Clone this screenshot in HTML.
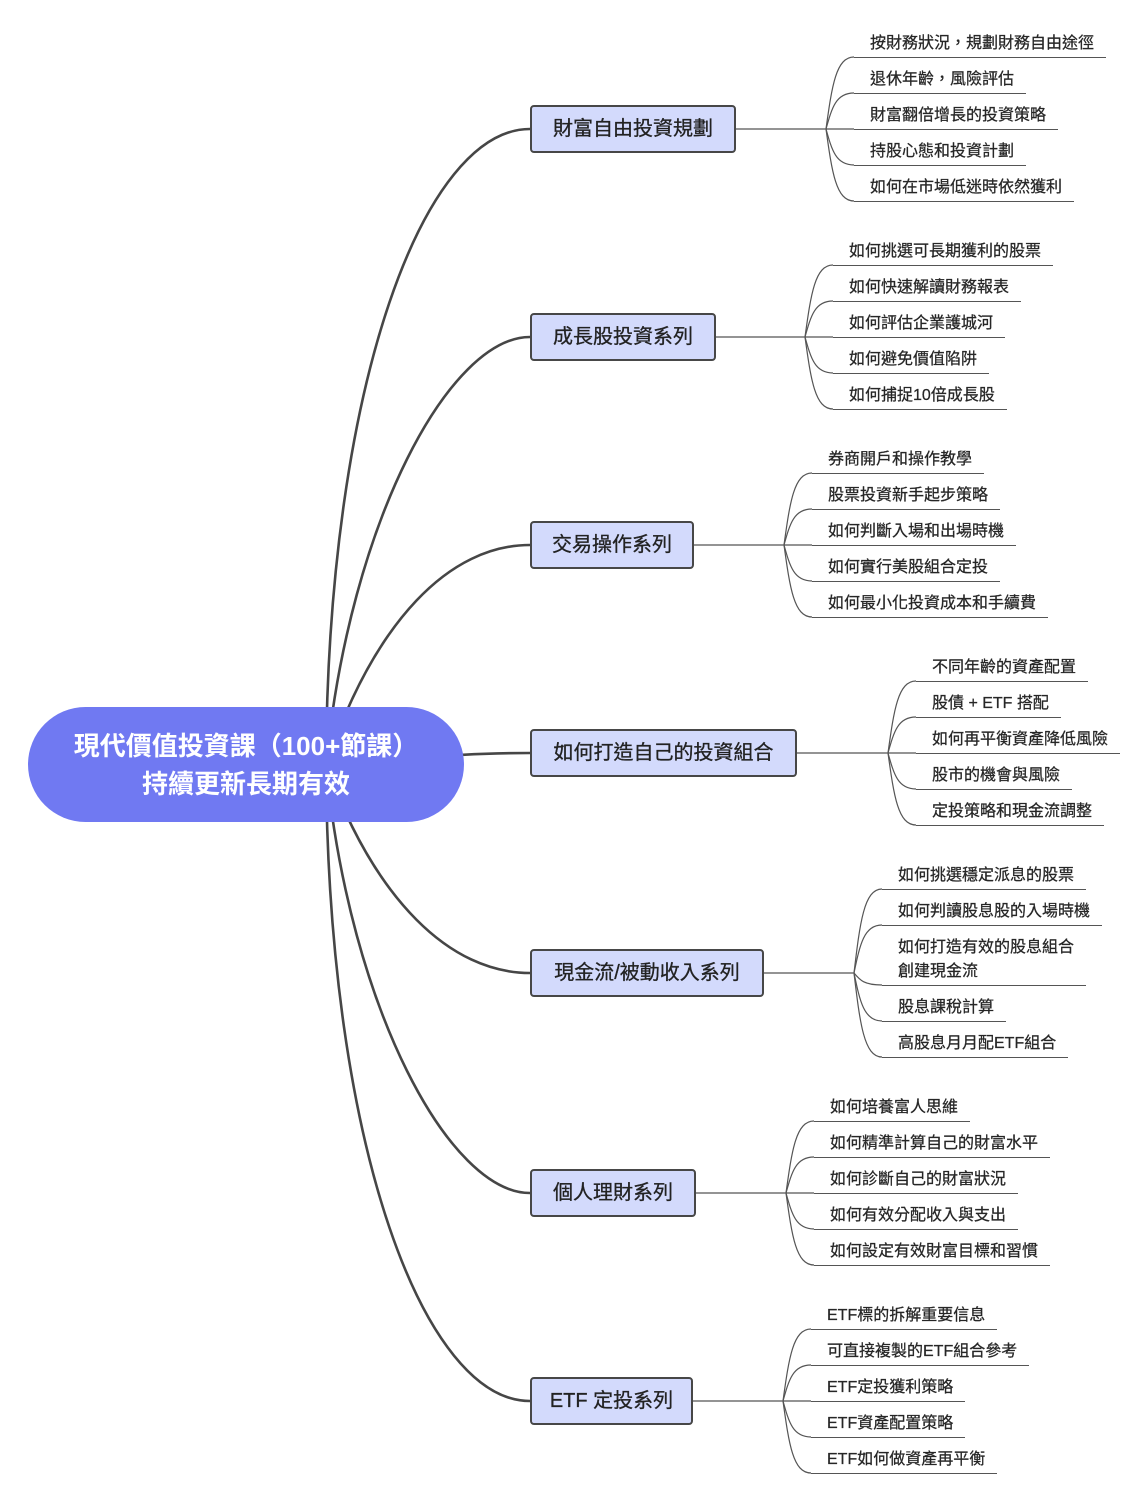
<!DOCTYPE html>
<html>
<head>
<meta charset="utf-8">
<style>
  html,body{margin:0;padding:0;background:#fff;}
  body{width:1148px;height:1500px;position:relative;overflow:hidden;
       font-family:"Liberation Sans","Noto Sans CJK TC",sans-serif;}
  svg{position:absolute;left:0;top:0;}
  .root{position:absolute;left:28px;top:707px;width:436px;height:115px;border-radius:58px;
        background:#7079f2;color:#fff;font-weight:bold;font-size:26px;line-height:38px;
        display:flex;flex-direction:column;align-items:center;justify-content:center;text-align:center;}
  .box{position:absolute;left:530px;height:48px;box-sizing:border-box;border:2px solid #474747;
       border-radius:4px;background:#d3dafc;color:#222;font-size:20px;line-height:1;
       display:flex;align-items:center;justify-content:center;white-space:nowrap;
       -webkit-text-stroke:0.3px #222;}
  .c{position:absolute;font-size:16px;line-height:24px;color:#262626;white-space:nowrap;
     padding:0 12px 1px 16px;border-bottom:1px solid #555;-webkit-text-stroke:0.25px #262626;}
</style>
</head>
<body>
<svg width="1148" height="1500" viewBox="0 0 1148 1500">
  <g fill="none" stroke="#464646" stroke-width="2.6" stroke-linecap="round">
    <path d="M326 765 C328 380 425 129 530 129"/>
    <path d="M326 765 C350 520 450 337 530 337"/>
    <path d="M326 765 C375 620 450 545 530 545"/>
    <path d="M420 758 Q470 753 530 753"/>
    <path d="M326 765 C375 900 450 973 530 973"/>
    <path d="M326 765 C350 1010 450 1193 530 1193"/>
    <path d="M326 765 C328 1150 425 1401 530 1401"/>
  </g>
  <g fill="none" stroke="#555" stroke-width="1.2">
    <path d="M736 129 H854"/>
    <path d="M826 129 C832 85.8 836 57 854 57"/>
    <path d="M826 129 C832 107.4 836 93 854 93"/>
    <path d="M826 129 C832 150.6 836 165 854 165"/>
    <path d="M826 129 C832 172.2 836 201 854 201"/>
    <path d="M716 337 H833"/>
    <path d="M805 337 C811 293.8 815 265 833 265"/>
    <path d="M805 337 C811 315.4 815 301 833 301"/>
    <path d="M805 337 C811 358.6 815 373 833 373"/>
    <path d="M805 337 C811 380.2 815 409 833 409"/>
    <path d="M694 545 H812"/>
    <path d="M784 545 C790 501.8 794 473 812 473"/>
    <path d="M784 545 C790 523.4 794 509 812 509"/>
    <path d="M784 545 C790 566.6 794 581 812 581"/>
    <path d="M784 545 C790 588.2 794 617 812 617"/>
    <path d="M797 753 H916"/>
    <path d="M888 753 C894 709.8 898 681 916 681"/>
    <path d="M888 753 C894 731.4 898 717 916 717"/>
    <path d="M888 753 C894 774.6 898 789 916 789"/>
    <path d="M888 753 C894 796.2 898 825 916 825"/>
    <path d="M764 973 H854"/>
    <path d="M854 973 C860 922.6 864 889 882 889"/>
    <path d="M854 973 C860 944.2 864 925 882 925"/>
    <path d="M854 973 C860 980.2 864 985 882 985"/>
    <path d="M854 973 C860 1001.8 864 1021 882 1021"/>
    <path d="M854 973 C860 1023.4 864 1057 882 1057"/>
    <path d="M696 1193 H814"/>
    <path d="M786 1193 C792 1149.8 796 1121 814 1121"/>
    <path d="M786 1193 C792 1171.4 796 1157 814 1157"/>
    <path d="M786 1193 C792 1214.6 796 1229 814 1229"/>
    <path d="M786 1193 C792 1236.2 796 1265 814 1265"/>
    <path d="M693 1401 H811"/>
    <path d="M783 1401 C789 1357.8 793 1329 811 1329"/>
    <path d="M783 1401 C789 1379.4 793 1365 811 1365"/>
    <path d="M783 1401 C789 1422.6 793 1437 811 1437"/>
    <path d="M783 1401 C789 1444.2 793 1473 811 1473"/>
  </g>
</svg>

<div class="root"><div>現代價值投資課（100+節課）</div><div>持續更新長期有效</div></div>

<div class="box" style="top:105px;width:206px;">財富自由投資規劃</div>
<div class="box" style="top:313px;width:186px;">成長股投資系列</div>
<div class="box" style="top:521px;width:164px;">交易操作系列</div>
<div class="box" style="top:729px;width:267px;">如何打造自己的投資組合</div>
<div class="box" style="top:949px;width:234px;">現金流/被動收入系列</div>
<div class="box" style="top:1169px;width:166px;">個人理財系列</div>
<div class="box" style="top:1377px;width:163px;">ETF 定投系列</div>

<div class="c" style="left:854px;top:32px;">按財務狀況，規劃財務自由途徑</div>
<div class="c" style="left:854px;top:68px;">退休年齡，風險評估</div>
<div class="c" style="left:854px;top:104px;">財富翻倍增長的投資策略</div>
<div class="c" style="left:854px;top:140px;">持股心態和投資計劃</div>
<div class="c" style="left:854px;top:176px;">如何在市場低迷時依然獲利</div>

<div class="c" style="left:833px;top:240px;">如何挑選可長期獲利的股票</div>
<div class="c" style="left:833px;top:276px;">如何快速解讀財務報表</div>
<div class="c" style="left:833px;top:312px;">如何評估企業護城河</div>
<div class="c" style="left:833px;top:348px;">如何避免價值陷阱</div>
<div class="c" style="left:833px;top:384px;">如何捕捉10倍成長股</div>

<div class="c" style="left:812px;top:448px;">券商開戶和操作教學</div>
<div class="c" style="left:812px;top:484px;">股票投資新手起步策略</div>
<div class="c" style="left:812px;top:520px;">如何判斷入場和出場時機</div>
<div class="c" style="left:812px;top:556px;">如何實行美股組合定投</div>
<div class="c" style="left:812px;top:592px;">如何最小化投資成本和手續費</div>

<div class="c" style="left:916px;top:656px;">不同年齡的資產配置</div>
<div class="c" style="left:916px;top:692px;">股債 + ETF 搭配</div>
<div class="c" style="left:916px;top:728px;">如何再平衡資產降低風險</div>
<div class="c" style="left:916px;top:764px;">股市的機會與風險</div>
<div class="c" style="left:916px;top:800px;">定投策略和現金流調整</div>

<div class="c" style="left:882px;top:864px;">如何挑選穩定派息的股票</div>
<div class="c" style="left:882px;top:900px;">如何判讀股息股的入場時機</div>
<div class="c" style="left:882px;top:936px;">如何打造有效的股息組合<br>創建現金流</div>
<div class="c" style="left:882px;top:996px;">股息課稅計算</div>
<div class="c" style="left:882px;top:1032px;">高股息月月配ETF組合</div>

<div class="c" style="left:814px;top:1096px;">如何培養富人思維</div>
<div class="c" style="left:814px;top:1132px;">如何精準計算自己的財富水平</div>
<div class="c" style="left:814px;top:1168px;">如何診斷自己的財富狀況</div>
<div class="c" style="left:814px;top:1204px;">如何有效分配收入與支出</div>
<div class="c" style="left:814px;top:1240px;">如何設定有效財富目標和習慣</div>

<div class="c" style="left:811px;top:1304px;">ETF標的拆解重要信息</div>
<div class="c" style="left:811px;top:1340px;">可直接複製的ETF組合參考</div>
<div class="c" style="left:811px;top:1376px;">ETF定投獲利策略</div>
<div class="c" style="left:811px;top:1412px;">ETF資產配置策略</div>
<div class="c" style="left:811px;top:1448px;">ETF如何做資產再平衡</div>
</body>
</html>
